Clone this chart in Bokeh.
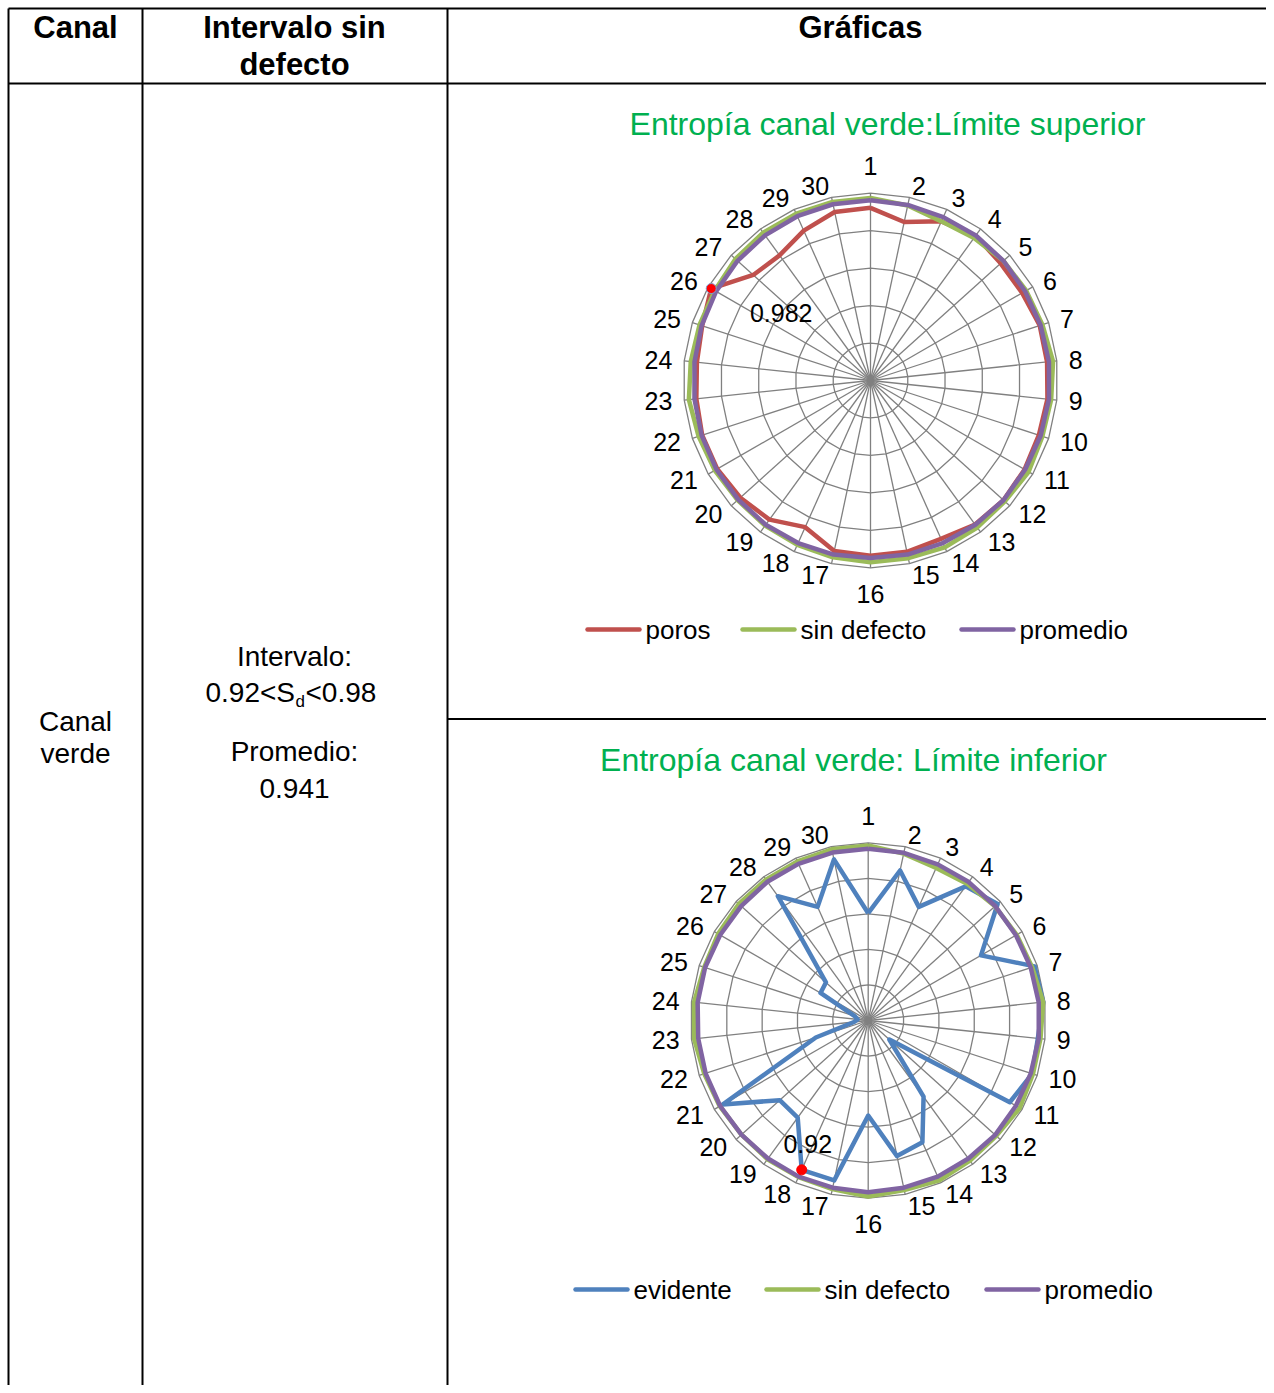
import numpy as np
from bokeh.plotting import figure
from bokeh.models import Range1d
from bokeh.embed import file_html
from bokeh.resources import INLINE
from bokeh.core.properties import value

# ---------------- data ----------------
categories = [str(i) for i in range(1, 31)]
ring_levels = [0.2, 0.4, 0.6, 0.8, 1.0]

top_title = "Entropía canal verde:Límite superior"
top_names = ["poros", "sin defecto", "promedio"]
top_poros = [0.922, 0.865, 0.930, 0.955, 0.935, 0.935, 0.950, 0.948, 0.950, 0.945,
             0.950, 0.955, 0.950, 0.925, 0.935, 0.935, 0.930, 0.857, 0.918, 0.935,
             0.945, 0.945, 0.935, 0.932, 0.945, 0.982, 0.842, 0.826, 0.876, 0.920]
top_sin_defecto = [0.975, 0.955, 0.930, 0.940, 0.955, 0.960, 0.965, 0.980, 0.970, 0.965,
                   0.975, 0.965, 0.970, 0.975, 0.970, 0.970, 0.965, 0.960, 0.958, 0.955,
                   0.960, 0.965, 0.975, 0.965, 0.960, 0.960, 0.970, 0.975, 0.975, 0.975]
top_promedio = [0.962, 0.958, 0.955, 0.957, 0.955, 0.953, 0.955, 0.958, 0.958, 0.955,
                0.953, 0.955, 0.952, 0.950, 0.950, 0.948, 0.950, 0.950, 0.952, 0.950,
                0.950, 0.948, 0.945, 0.945, 0.948, 0.952, 0.955, 0.958, 0.960, 0.962]
top_marker_index = 25          # point "26" of poros
top_marker_value = top_poros[top_marker_index]

bot_title = "Entropía canal verde: Límite inferior"
bot_names = ["evidente", "sin defecto", "promedio"]
bot_evidente = [0.604, 0.863, 0.700, 0.933, 0.980, 0.733, 0.985, 0.990, 0.960, 0.970,
                0.920, 0.160, 0.530, 0.750, 0.780, 0.535, 0.920, 0.920, 0.675, 0.670,
                0.946, 0.310, 0.080, 0.060, 0.080, 0.310, 0.320, 0.865, 0.700, 0.927]
bot_sin_defecto = [0.985, 0.960, 0.940, 0.950, 0.960, 0.965, 0.970, 0.990, 0.975, 0.975,
                   0.985, 0.970, 0.975, 0.985, 0.975, 0.990, 0.970, 0.965, 0.965, 0.960,
                   0.965, 0.970, 0.985, 0.985, 0.970, 0.975, 0.980, 0.980, 0.980, 0.985]
bot_promedio = [0.966, 0.965, 0.962, 0.963, 0.962, 0.960, 0.962, 0.965, 0.965, 0.962,
                0.960, 0.962, 0.960, 0.962, 0.962, 0.966, 0.962, 0.962, 0.960, 0.960,
                0.962, 0.962, 0.962, 0.965, 0.965, 0.962, 0.962, 0.965, 0.965, 0.966]
bot_marker_index = 17          # point "18" of evidente
bot_marker_value = bot_evidente[bot_marker_index]

header_texts = ["Canal", "Intervalo sin", "defecto", "Gráficas"]
canal_texts = ["Canal", "verde"]
interval_label = "Intervalo:"
interval_parts = ["0.92<S", "d", "<0.98"]
promedio_label = "Promedio:"
promedio_value = "0.941"

# ---------------- styles ----------------
RED = "#C0504D"
GREEN = "#9BBB59"
PURPLE = "#8064A2"
BLUE = "#4F81BD"
GRID = "#808080"
TITLE_GREEN = "#00B050"
FONT = value("Liberation Sans")

W, H = 1266, 1385
p = figure(width=W, height=H, x_range=Range1d(0, W), y_range=Range1d(H, 0),
           output_backend="svg", toolbar_location=None, min_border=0,
           x_axis_type=None, y_axis_type=None)
p.outline_line_color = None
p.background_fill_color = "white"
p.border_fill_color = "white"

# ---------------- table ----------------
LW = 2
p.segment(x0=[8, 8, 447], y0=[8, 83, 718.5], x1=[W, W, W], y1=[8, 83, 718.5],
          line_color="black", line_width=LW)
p.segment(x0=[8, 142, 447], y0=[8, 8, 8], x1=[8, 142, 447], y1=[H, H, H],
          line_color="black", line_width=LW)

p.text(x=[75, 294, 294, 860], y=[27, 27, 64, 27],
       text=header_texts, text_font=FONT, text_font_style="bold",
       text_font_size="31px", text_align="center", text_baseline="middle",
       text_color="black")

p.text(x=[75, 75], y=[721, 753], text=canal_texts, text_font=FONT,
       text_font_size="28px", text_align="center", text_baseline="middle",
       text_color="black")
p.text(x=[294, 294, 294], y=[656, 751, 788],
       text=[interval_label, promedio_label, promedio_value], text_font=FONT,
       text_font_size="28px", text_align="center", text_baseline="middle",
       text_color="black")
# interval with subscript
x_start = 205
p.text(x=[x_start], y=[692], text=[interval_parts[0]], text_font=FONT,
       text_font_size="28px", text_align="left", text_baseline="middle", text_color="black")
p.text(x=[x_start + 90], y=[701], text=[interval_parts[1]], text_font=FONT,
       text_font_size="17px", text_align="left", text_baseline="middle", text_color="black")
p.text(x=[x_start + 100], y=[692], text=[interval_parts[2]], text_font=FONT,
       text_font_size="28px", text_align="left", text_baseline="middle", text_color="black")


# ---------------- radar helper ----------------
def radar(cx, cy, R, series, title, title_xy, legend_y, legend_x, marker, label_off):
    n = len(categories)
    ang = np.deg2rad(np.arange(n) * 360.0 / n)
    sx, sy = np.sin(ang), -np.cos(ang)
    sxc, syc = np.append(sx, sx[0]), np.append(sy, sy[0])
    # rings
    p.multi_line(xs=[list(cx + R * lv * sxc) for lv in ring_levels],
                 ys=[list(cy + R * lv * syc) for lv in ring_levels],
                 line_color=GRID, line_width=1.3)
    # spokes
    p.segment(x0=[cx] * n, y0=[cy] * n, x1=list(cx + R * sx), y1=list(cy + R * sy),
              line_color=GRID, line_width=1.3)
    # series
    for vals, col, name in series:
        v = np.array(vals)
        vc = np.append(v, v[0])
        p.line(list(cx + R * vc * sxc), list(cy + R * vc * syc), line_color=col,
               line_width=4.5, line_join="round")
    # category labels (Excel-like: box pushed sideways by half its width)
    lx, ly = [], []
    for i, lab in enumerate(categories):
        w = 13.9 * len(lab)
        r = R + 12
        if abs(sx[i]) < 1e-6:
            dx, dy = 0.0, (-15 if sy[i] < 0 else 14)
        else:
            dx, dy = np.sign(sx[i]) * w / 2, 0.0
        lx.append(cx + r * sx[i] + dx)
        ly.append(cy + r * sy[i] + dy)
    p.text(x=lx, y=ly, text=categories, text_font=FONT, text_font_size="25px",
           text_align="center", text_baseline="middle", text_color="black")
    # marker with data label
    mi, mv, mline = marker
    mx, my = cx + R * mv * sx[mi], cy + R * mv * sy[mi]
    p.scatter([mx], [my], size=10, fill_color="#FF0000", line_color=mline, line_width=1)
    p.text(x=[mx + label_off[0]], y=[my + label_off[1]], text=[f"{mv:g}"], text_font=FONT,
           text_font_size="25px", text_align="center", text_baseline="middle",
           text_color="black")
    # title
    p.text(x=[title_xy[0]], y=[title_xy[1]], text=[title], text_font=FONT,
           text_font_size="32px", text_align="center", text_baseline="middle",
           text_color=TITLE_GREEN)
    # legend
    for (vals, col, name), lx0 in zip(series, legend_x):
        p.line([lx0, lx0 + 52], [legend_y, legend_y], line_color=col, line_width=4.5,
               line_cap="round")
        p.text(x=[lx0 + 58], y=[legend_y], text=[name], text_font=FONT,
               text_font_size="26px", text_align="left", text_baseline="middle",
               text_color="black")


radar(870, 380, 187.3,
      [(top_poros, RED, top_names[0]), (top_sin_defecto, GREEN, top_names[1]),
       (top_promedio, PURPLE, top_names[2])],
      top_title, (887, 123), 629, [587, 742, 961],
      (top_marker_index, top_marker_value, "#7F9FCF"), (70, 24))

radar(867.7, 1020, 177.7,
      [(bot_evidente, BLUE, bot_names[0]), (bot_sin_defecto, GREEN, bot_names[1]),
       (bot_promedio, PURPLE, bot_names[2])],
      bot_title, (853, 759), 1289, [575, 766, 986],
      (bot_marker_index, bot_marker_value, "#FF0000"), (6, -26))

open("out.html", "w").write(file_html(p, INLINE))
